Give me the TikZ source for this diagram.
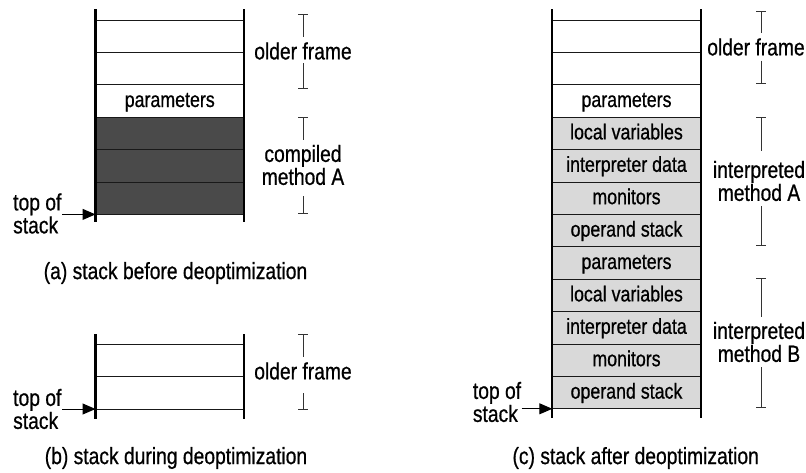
\documentclass[tikz,border=0pt]{standalone}
\usepackage{fontspec}
\setmainfont{Liberation Sans}[FakeStretch=0.82,FakeBold=0.7]
\usetikzlibrary{arrows.meta}

\definecolor{compiledfill}{HTML}{4A4A4A}
\definecolor{interpfill}{HTML}{D9D9D9}

\tikzset{
  rail/.style={line width=2.2pt, black},
  slotline/.style={line width=1pt, black!90},
  lbl/.style={font=\fontsize{23.5}{23}\selectfont, align=center, inner sep=0pt},
  celltext/.style={font=\fontsize{21.7}{22}\selectfont, inner sep=0pt, anchor=base},
  brk/.style={line width=0.9pt, black!80},
  ptr/.style={line width=1pt, -{Triangle[length=13pt,width=11pt]}},
  tostext/.style={font=\fontsize{23.5}{23}\selectfont, align=left, inner sep=0pt, anchor=west},
}

% bracket beside a frame: x, top, bottom, gap top, gap bottom
\newcommand\framebrace[5]{%
  \draw[brk] (#1-5,#2) -- (#1+5,#2) (#1,#2) -- (#1,#4)
             (#1,#5) -- (#1,#3) (#1-5,#3) -- (#1+5,#3);}

\begin{document}
\begin{tikzpicture}[x=1pt,y=-1pt]
\useasboundingbox (0,0) rectangle (806,472);

% ---------------- (a) stack before deoptimization ----------------
\fill[compiledfill] (95.5,117.2) rectangle (244,214.4);
\foreach \y in {20,52.4,84.8,117.2,149.6,182,214.4}
  \draw[slotline] (95.5,\y) -- (244,\y);
\draw[rail] (95.5,9) -- (95.5,222);
\draw[rail] (244,9) -- (244,222);
\node[celltext] (a-par) at (169.75,107) {parameters};
\framebrace{303}{14.7}{88}{37}{63}
\node[lbl] (a-old) at (303,51) {older frame};
\framebrace{303}{117}{213}{140}{196}
\node[lbl] (a-comp) at (303,165) {compiled\\method A};
\coordinate (a-tail) at (62,214.4);
\coordinate (a-tos) at (95.5,214.4);
\draw[ptr] (a-tail) -- (a-tos);
\node[tostext] (a-tosl) at (13,213.5) {top of\\stack};
\node[lbl] (a-cap) at (175.5,273) {(a) stack before deoptimization};

% ---------------- (b) stack during deoptimization ----------------
\foreach \y in {344.3,376.7,409}
  \draw[slotline] (95.5,\y) -- (244,\y);
\draw[rail] (95.5,334) -- (95.5,419);
\draw[rail] (244,334) -- (244,419);
\framebrace{303}{334.7}{409}{357}{393}
\node[lbl] (b-old) at (303,371) {older frame};
\coordinate (b-tail) at (62,409);
\coordinate (b-tos) at (95.5,409);
\draw[ptr] (b-tail) -- (b-tos);
\node[tostext] (b-tosl) at (13,409) {top of\\stack};
\node[lbl] (b-cap) at (176,458) {(b) stack during deoptimization};

% ---------------- (c) stack after deoptimization ----------------
\fill[interpfill] (552.3,117.2) rectangle (700.7,408.8);
\foreach \k in {0,...,12}
  \draw[slotline] (552.3,{20+32.4*\k}) -- (700.7,{20+32.4*\k});
\draw[rail] (552.3,9) -- (552.3,418);
\draw[rail] (700.7,9) -- (700.7,418);
\foreach \t [count=\k from 2] in {parameters,local variables,interpreter data,monitors,operand stack,parameters,local variables,interpreter data,monitors,operand stack}
  \node[celltext] (c-row\k) at (626.5,{42.2+32.4*\k}) {\t};
\framebrace{761}{11}{83.3}{33}{60.5}
\node[lbl] (c-old) at (756,47) {older frame};
\framebrace{761}{117}{245}{151}{206}
\node[lbl] (c-intA) at (759,181) {interpreted\\method A};
\framebrace{761}{278.3}{407}{317}{367}
\node[lbl] (c-intB) at (759,342) {interpreted\\method B};
\coordinate (c-tail) at (521.7,408.8);
\coordinate (c-tos) at (552.3,408.8);
\draw[ptr] (c-tail) -- (c-tos);
\node[tostext] (c-tosl) at (472.7,402) {top of\\stack};
\node[lbl] (c-cap) at (635.7,458) {(c) stack after deoptimization};
\end{tikzpicture}
\end{document}
